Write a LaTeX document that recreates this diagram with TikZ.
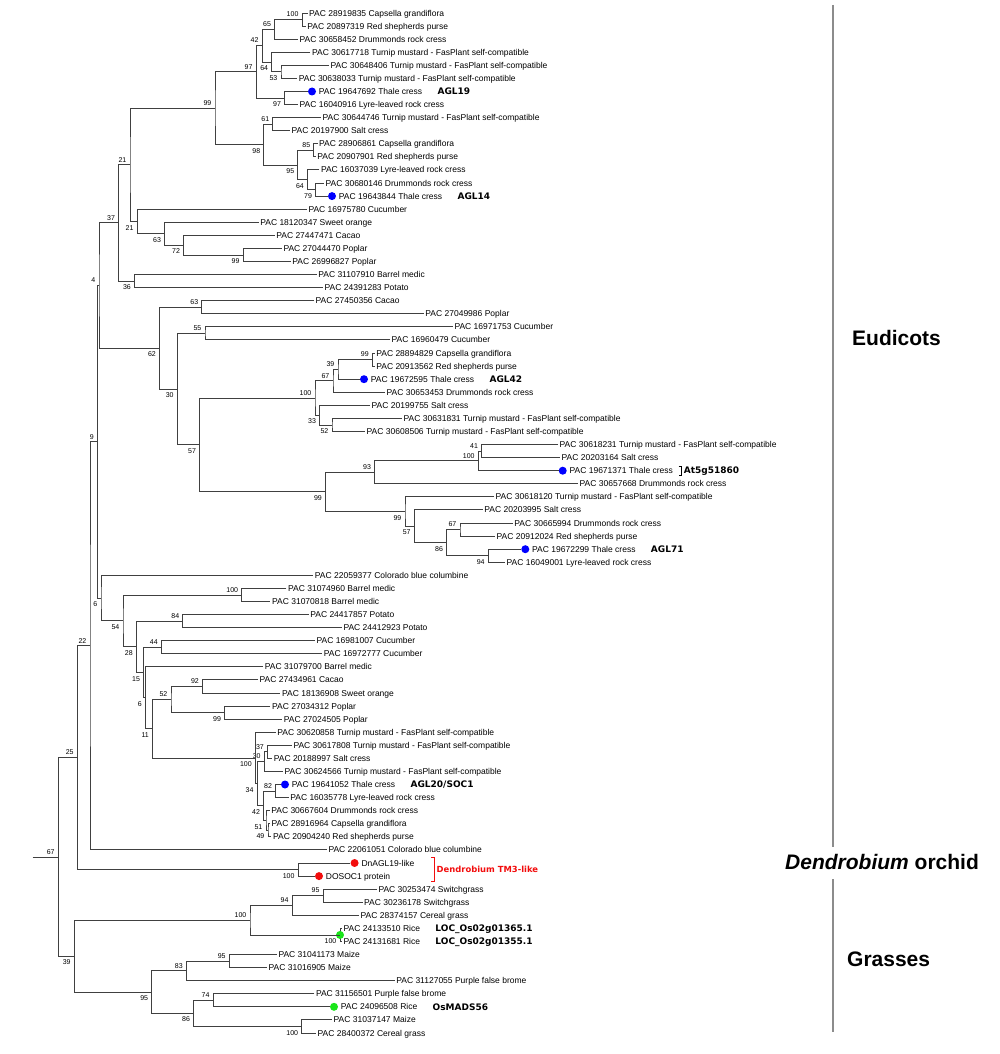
\documentclass[tikz,border=0pt]{standalone}
\usepackage{fontspec}
\setmainfont{Liberation Sans}
\newfontfamily\dejavu{DejaVu Sans}
\usetikzlibrary{positioning,calc}
\definecolor{dotBlue}{rgb}{0.0, 0.0, 1.0}
\definecolor{dotRed}{rgb}{0.95, 0.05, 0.05}
\definecolor{dotGreen}{rgb}{0.1, 0.9, 0.1}
\definecolor{sepGray}{rgb}{0.55, 0.55, 0.55}

\newcommand{\leaffont}{\fontsize{8.5}{10}\selectfont}
\newcommand{\bsfont}{\fontsize{7}{8}\selectfont}
\newcommand{\genefont}{\dejavu\bfseries\fontsize{9}{10}\selectfont}
\newcommand{\groupfont}{\bfseries\fontsize{21}{24}\selectfont}

% clade: name, x, upper child, lower child, bootstrap, label style
\newcommand{\clade}[6]{%
  \path let \p1=(#3), \p2=(#4) in (#2pt,{0.5*(\y1+\y2)}) coordinate (#1);
  \draw[branch] (#3) -| (#1) |- (#4);
  \node[#6] (#1lab) at (#1) {#5};
}

\tikzset{
  branch/.style={draw=black!75, line width=0.9pt},
  leaf/.style={anchor=west, inner sep=1.5pt, font=\leaffont, text height=6.1pt, text depth=0pt},
  gene/.style={anchor=west, inner sep=1.5pt, font=\genefont, text height=6.5pt, text depth=0pt},
  bsa/.style={anchor=south east, inner sep=0pt, font=\bsfont, xshift=-3.5pt, yshift=2.5pt},
  bsb/.style={anchor=north east, inner sep=0pt, font=\bsfont, xshift=-3.5pt, yshift=-3.5pt},
  bdot/.style={circle, fill=dotBlue, inner sep=0pt, minimum size=8pt},
  rdot/.style={circle, fill=dotRed, inner sep=0pt, minimum size=8pt},
  gdot/.style={circle, fill=dotGreen, inner sep=0pt, minimum size=8pt},
  bracket/.style={line width=0.9pt},
  group/.style={anchor=west, inner sep=0pt, font=\groupfont},
  sep/.style={draw=sepGray, line width=1.4pt}
}

\begin{document}
\begin{tikzpicture}[x=1pt, y=-1pt]
        \useasboundingbox (0,0) rectangle (1000,1054);

        % leaves, first eudicot group
        \node[leaf] (l1) at (307.5,13.0) {PAC 28919835 Capsella grandiflora};
        \node[leaf] (l2) at (305.7,26.1) {PAC 20897319 Red shepherds purse};
        \node[leaf] (l3) at (297.9,39.2) {PAC 30658452 Drummonds rock cress};
        \node[leaf] (l4) at (310.4,52.2) {PAC 30617718 Turnip mustard - FasPlant self-compatible};
        \node[leaf] (l5) at (328.9,65.3) {PAC 30648406 Turnip mustard - FasPlant self-compatible};
        \node[leaf] (l6) at (297.1,78.4) {PAC 30638033 Turnip mustard - FasPlant self-compatible};
        \node[bdot] (l7) at (312,91.5) {};
        \node[leaf, right=1pt of l7] (t7) {PAC 19647692 Thale cress};
        \node[gene, right=12pt of t7] (g7) {AGL19};
        \node[leaf] (l8) at (297.9,104.5) {PAC 16040916 Lyre-leaved rock cress};
        \node[leaf] (l9) at (321,117.6) {PAC 30644746 Turnip mustard - FasPlant self-compatible};
        \node[leaf] (l10) at (290,130.7) {PAC 20197900 Salt cress};
        \node[leaf] (l11) at (317.5,143.8) {PAC 28906861 Capsella grandiflora};
        \node[leaf] (l12) at (315.7,156.8) {PAC 20907901 Red shepherds purse};
        \node[leaf] (l13) at (319.3,169.9) {PAC 16037039 Lyre-leaved rock cress};
        \node[leaf] (l14) at (323.9,183.0) {PAC 30680146 Drummonds rock cress};
        \node[bdot] (l15) at (332,196.1) {};
        \node[leaf, right=1pt of l15] (t15) {PAC 19643844 Thale cress};
        \node[gene, right=12pt of t15] (g15) {AGL14};
        \node[leaf] (l16) at (306.8,209.2) {PAC 16975780 Cucumber};
        \node[leaf] (l17) at (258.6,222.2) {PAC 18120347 Sweet orange};
        \node[leaf] (l18) at (274.6,235.3) {PAC 27447471 Cacao};
        \node[leaf] (l19) at (281.8,248.4) {PAC 27044470 Poplar};
        \node[leaf] (l20) at (290.7,261.5) {PAC 26996827 Poplar};
        \node[leaf] (l21) at (316.6,274.5) {PAC 31107910 Barrel medic};
        \node[leaf] (l22) at (323,287.6) {PAC 24391283 Potato};

        % leaves, second eudicot group
        \node[leaf] (l23) at (314,300.7) {PAC 27450356 Cacao};
        \node[leaf] (l24) at (423.7,313.8) {PAC 27049986 Poplar};
        \node[leaf] (l25) at (452.8,326.8) {PAC 16971753 Cucumber};
        \node[leaf] (l26) at (390,339.9) {PAC 16960479 Cucumber};
        \node[leaf] (l27) at (374.6,353.0) {PAC 28894829 Capsella grandiflora};
        \node[leaf] (l28) at (374.6,366.1) {PAC 20913562 Red shepherds purse};
        \node[bdot] (l29) at (364,379.2) {};
        \node[leaf, right=1pt of l29] (t29) {PAC 19672595 Thale cress};
        \node[gene, right=12pt of t29] (g29) {AGL42};
        \node[leaf] (l30) at (385,392.2) {PAC 30653453 Drummonds rock cress};
        \node[leaf] (l31) at (370,405.3) {PAC 20199755 Salt cress};
        \node[leaf] (l32) at (402,418.4) {PAC 30631831 Turnip mustard - FasPlant self-compatible};
        \node[leaf] (l33) at (365,431.5) {PAC 30608506 Turnip mustard - FasPlant self-compatible};
        \node[leaf] (l34) at (558,444.5) {PAC 30618231 Turnip mustard - FasPlant self-compatible};
        \node[leaf] (l35) at (560,457.6) {PAC 20203164 Salt cress};
        \node[bdot] (l36) at (562.7,470.7) {};
        \node[leaf, right=1pt of l36] (t36) {PAC 19671371 Thale cress};
        \coordinate[right=7pt of t36] (br36);
        \draw[bracket] ([shift={(-3pt,4.5pt)}]br36) -- ([yshift=4.5pt]br36) -- ([yshift=-4.5pt]br36) -- ([shift={(-3pt,-4.5pt)}]br36);
        \node[gene, right=0.5pt of br36] (g36) {At5g51860};
        \node[leaf] (l37) at (578,483.8) {PAC 30657668 Drummonds rock cress};
        \node[leaf] (l38) at (494,496.8) {PAC 30618120 Turnip mustard - FasPlant self-compatible};
        \node[leaf] (l39) at (482.7,509.9) {PAC 20203995 Salt cress};
        \node[leaf] (l40) at (512.7,523.0) {PAC 30665994 Drummonds rock cress};
        \node[leaf] (l41) at (495,536.1) {PAC 20912024 Red shepherds purse};
        \node[bdot] (l42) at (525.3,549.2) {};
        \node[leaf, right=1pt of l42] (t42) {PAC 19672299 Thale cress};
        \node[gene, right=12pt of t42] (g42) {AGL71};
        \node[leaf] (l43) at (505,562.2) {PAC 16049001 Lyre-leaved rock cress};

        % leaves, third eudicot group
        \node[leaf] (l44) at (313.2,575.3) {PAC 22059377 Colorado blue columbine};
        \node[leaf] (l45) at (286.4,588.4) {PAC 31074960 Barrel medic};
        \node[leaf] (l46) at (270.4,601.5) {PAC 31070818 Barrel medic};
        \node[leaf] (l47) at (308.6,614.5) {PAC 24417857 Potato};
        \node[leaf] (l48) at (341.8,627.6) {PAC 24412923 Potato};
        \node[leaf] (l49) at (315,640.7) {PAC 16981007 Cucumber};
        \node[leaf] (l50) at (322.1,653.8) {PAC 16972777 Cucumber};
        \node[leaf] (l51) at (263.2,666.8) {PAC 31079700 Barrel medic};
        \node[leaf] (l52) at (258,679.9) {PAC 27434961 Cacao};
        \node[leaf] (l53) at (280.4,693.0) {PAC 18136908 Sweet orange};
        \node[leaf] (l54) at (270.4,706.1) {PAC 27034312 Poplar};
        \node[leaf] (l55) at (282.1,719.2) {PAC 27024505 Poplar};
        \node[leaf] (l56) at (275.7,732.2) {PAC 30620858 Turnip mustard - FasPlant self-compatible};
        \node[leaf] (l57) at (291.8,745.3) {PAC 30617808 Turnip mustard - FasPlant self-compatible};
        \node[leaf] (l58) at (272.1,758.4) {PAC 20188997 Salt cress};
        \node[leaf] (l59) at (282.9,771.5) {PAC 30624566 Turnip mustard - FasPlant self-compatible};
        \node[bdot] (l60) at (285,784.5) {};
        \node[leaf, right=1pt of l60] (t60) {PAC 19641052 Thale cress};
        \node[gene, right=12pt of t60] (g60) {AGL20/SOC1};
        \node[leaf] (l61) at (288.6,797.6) {PAC 16035778 Lyre-leaved rock cress};
        \node[leaf] (l62) at (269.6,810.7) {PAC 30667604 Drummonds rock cress};
        \node[leaf] (l63) at (270,823.8) {PAC 28916964 Capsella grandiflora};
        \node[leaf] (l64) at (271.4,836.8) {PAC 20904240 Red shepherds purse};
        \node[leaf] (l65) at (326.8,849.9) {PAC 22061051 Colorado blue columbine};

        % leaves, orchid
        \node[rdot] (l66) at (354.6,863.0) {};
        \node[leaf, right=1pt of l66] (t66) {DnAGL19-like};
        \node[rdot] (l67) at (319,876.1) {};
        \node[leaf, right=1pt of l67] (t67) {DOSOC1 protein};
        \coordinate (brd) at (434,869.5);
        \draw[bracket, dotRed] ([shift={(-3pt,12pt)}]brd) -- ([yshift=12pt]brd) -- ([yshift=-12pt]brd) -- ([shift={(-3pt,-12pt)}]brd);
        \node[gene, text=dotRed, font=\dejavu\bfseries\fontsize{8.4}{10}\selectfont, right=1pt of brd] (tm3) {Dendrobium TM3-like};

        % leaves, grasses
        \node[leaf] (l68) at (376.8,889.2) {PAC 30253474 Switchgrass};
        \node[leaf] (l69) at (362.5,902.2) {PAC 30236178 Switchgrass};
        \node[leaf] (l70) at (359,915.3) {PAC 28374157 Cereal grass};
        \node[leaf] (l71) at (342,928.4) {PAC 24133510 Rice};
        \node[leaf] (l72) at (342,941.5) {PAC 24131681 Rice};
        \node[gene, right=12pt of l71] (g71) {LOC\_Os02g01365.1};
        \node[gene, right=12pt of l72] (g72) {LOC\_Os02g01355.1};
        \node[leaf] (l73) at (276.8,954.5) {PAC 31041173 Maize};
        \node[leaf] (l74) at (267,967.6) {PAC 31016905 Maize};
        \node[leaf] (l75) at (394.6,980.7) {PAC 31127055 Purple false brome};
        \node[leaf] (l76) at (314.3,993.8) {PAC 31156501 Purple false brome};
        \node[gdot] (l77) at (334,1006.8) {};
        \node[leaf, right=1pt of l77] (t77) {PAC 24096508 Rice};
        \node[gene, right=12pt of t77] (g77) {OsMADS56};
        \node[leaf] (l78) at (332,1019.9) {PAC 31037147 Maize};
        \node[leaf] (l79) at (316,1033.0) {PAC 28400372 Cereal grass};

        % clades, first eudicot group
        \clade{n100a}{302.1}{l1}{l2}{100}{bsa}
        \clade{n65}{274.6}{n100a}{l3}{65}{bsa}
        \clade{n53}{281}{l5}{l6}{53}{bsb}
        \clade{n64}{271.8}{l4}{n53}{64}{bsb}
        \clade{n42}{262.1}{n65}{n64}{42}{bsa}
        \clade{n97b}{284.6}{l7}{l8}{97}{bsb}
        \clade{n97a}{256.1}{n42}{n97b}{97}{bsa}
        \clade{n61}{272.9}{l9}{l10}{61}{bsa}
        \clade{n85}{313.9}{l11}{l12}{85}{bsa}
        \clade{n79}{315.7}{l14}{l15}{79}{bsb}
        \clade{n64b}{307.5}{l13}{n79}{64}{bsb}
        \clade{n95}{297.9}{n85}{n64b}{95}{bsb}
        \clade{n98}{263.9}{n61}{n95}{98}{bsb}
        \clade{n99}{215}{n97a}{n98}{99}{bsa}
        \clade{n99c}{243.2}{l19}{l20}{99}{bsb}
        \clade{n72}{183.6}{l18}{n99c}{72}{bsb}
        \clade{n63}{164.6}{l17}{n72}{63}{bsb}
        \clade{n21b}{137.1}{l16}{n63}{21}{bsb}
        \clade{n21a}{130}{n99}{n21b}{21}{bsa}
        \clade{n36}{134.5}{l21}{l22}{36}{bsb}
        \clade{n37}{118.7}{n21a}{n36}{37}{bsa}

        % clades, second eudicot group
        \clade{n63b}{201.9}{l23}{l24}{63}{bsa}
        \clade{n55}{205}{l25}{l26}{55}{bsa}
        \clade{n99d}{372.4}{l27}{l28}{99}{bsa}
        \clade{n39}{338}{n99d}{l29}{39}{bsa}
        \clade{n67}{333}{n39}{l30}{67}{bsa}
        \clade{n52}{332}{l32}{l33}{52}{bsb}
        \clade{n33}{319.7}{l31}{n52}{33}{bsb}
        \clade{n100e}{315}{n67}{n33}{100}{bsa}
        \clade{n41}{481.7}{l34}{l35}{41}{bsa}
        \clade{n100g}{478.3}{n41}{l36}{100}{bsa}
        \clade{n93}{374.6}{n100g}{l37}{93}{bsa}
        \clade{n67b}{460}{l40}{l41}{67}{bsa}
        \clade{n94}{488.3}{l42}{l43}{94}{bsb}
        \clade{n86}{446.7}{n67b}{n94}{86}{bsb}
        \clade{n57b}{414.3}{l39}{n86}{57}{bsb}
        \clade{n99g}{405}{l38}{n57b}{99}{bsb}
        \clade{n99f}{325.5}{n93}{n99g}{99}{bsb}
        \clade{n57}{199.6}{n100e}{n99f}{57}{bsb}
        \clade{n30}{177.3}{n55}{n57}{30}{bsb}
        \clade{n62}{159.5}{n63b}{n30}{62}{bsb}
        \clade{n4}{99}{n37}{n62}{4}{bsa}

        % clades, third eudicot group
        \clade{n100b}{241.8}{l45}{l46}{100}{bsa}
        \clade{n84}{182.9}{l47}{l48}{84}{bsa}
        \clade{n44}{161.4}{l49}{l50}{44}{bsa}
        \clade{n92}{202.5}{l52}{l53}{92}{bsa}
        \clade{n99p}{224.6}{l54}{l55}{99}{bsb}
        \clade{n52b}{171}{n92}{n99p}{52}{bsa}
        \clade{n37c}{267.5}{l57}{l58}{37}{bsa}
        \clade{n30b}{264.3}{n37c}{l59}{30}{bsa}
        \clade{n82}{275.7}{l60}{l61}{82}{bsa}
        \clade{n49}{268}{l63}{l64}{49}{bsb}
        \clade{n51}{266}{l62}{n49}{51}{bsb}
        \clade{n42b}{263.6}{n82}{n51}{42}{bsb}
        \clade{n34}{257.1}{n30b}{n42b}{34}{bsb}
        \clade{n100s}{255.4}{l56}{n34}{100}{bsb}
        \clade{n11}{152.5}{n52b}{n100s}{11}{bsb}
        \clade{n6b}{145.4}{l51}{n11}{6}{bsb}
        \clade{n15}{143.6}{n44}{n6b}{15}{bsb}
        \clade{n28}{136.4}{n84}{n15}{28}{bsb}
        \clade{n54}{123}{n100b}{n28}{54}{bsb}
        \clade{n6}{101}{l44}{n54}{6}{bsb}
        \clade{n9}{97.5}{n4}{n6}{9}{bsa}
        \clade{n22}{90}{n9}{l65}{22}{bsa}

        % orchid
        \clade{n100d}{298.2}{l66}{l67}{100}{bsb}
        \clade{n25}{77.3}{n22}{n100d}{25}{bsa}

        % grasses
        \clade{n95g}{323.2}{l68}{l69}{95}{bsa}
        \clade{n94g}{292.1}{n95g}{l70}{94}{bsa}
        \clade{n100r}{340}{l71}{l72}{100}{bsb}
        \node[gdot] (d100r) at (n100r) {};
        \clade{n100f}{250}{n94g}{n100r}{100}{bsa}
        \clade{n95m}{229.3}{l73}{l74}{95}{bsa}
        \clade{n83}{186.4}{n95m}{l75}{83}{bsa}
        \clade{n74}{213.2}{l76}{l77}{74}{bsa}
        \clade{n100c}{301.8}{l78}{l79}{100}{bsb}
        \clade{n86g}{193.6}{n74}{n100c}{86}{bsb}
        \clade{n95b}{151.8}{n83}{n86g}{95}{bsb}
        \clade{n39g}{74.3}{n100f}{n95b}{39}{bsb}

        % root
        \clade{n67r}{58.3}{n25}{n39g}{67}{bsa}
        \coordinate (root) at ([xshift=-25.6pt]n67r);
        \draw[branch] (root) -- (n67r);

        % groups
        \draw[sep] (833,5) -- (833,847);
        \draw[sep] (833,879) -- (833,1032);
        \node[group] (eud) at (852,338) {Eudicots};
        \node[group] (orch) at (785,862) {\textit{Dendrobium} orchid};
        \node[group] (grass) at (847,959) {Grasses};

    \end{tikzpicture}
\end{document}
